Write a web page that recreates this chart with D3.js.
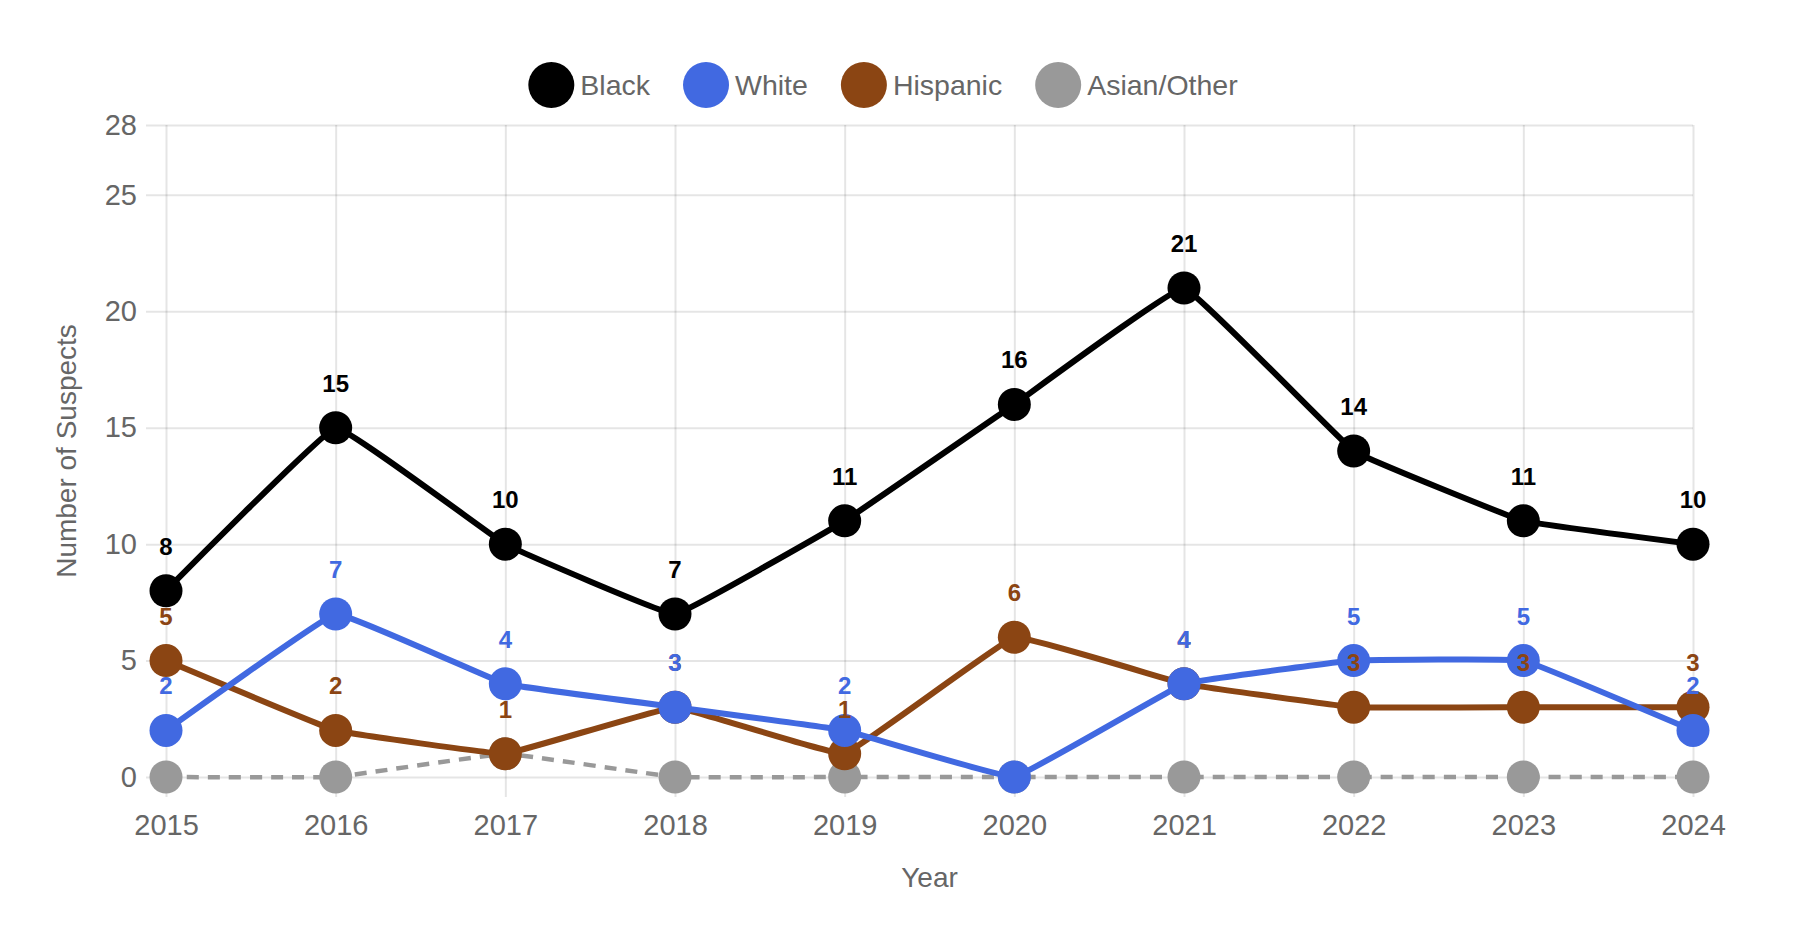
<!DOCTYPE html>
<html>
<head>
<meta charset="utf-8">
<script src="https://cdn.jsdelivr.net/npm/d3@7"></script>
<style>
  html, body { margin: 0; padding: 0; background: #fff; }
  svg { display: block; font-family: "Liberation Sans", Arial, Helvetica, sans-serif; }
</style>
</head>
<body>
<svg id="chart" width="1800" height="936"></svg>
<script>
// ---- Data ----
const years = ["2015","2016","2017","2018","2019","2020","2021","2022","2023","2024"];
const seriesNames = ["Black", "White", "Hispanic", "Asian/Other"];
const blackValues = [8, 15, 10, 7, 11, 16, 21, 14, 11, 10];
const whiteValues = [2, 7, 4, 3, 2, 0, 4, 5, 5, 2];
const hispanicValues = [5, 2, 1, 3, 1, 6, 4, 3, 3, 3];
const asianOtherValues = [0, 0, 1, 0, 0, 0, 0, 0, 0, 0];
const yTickValues = [0, 5, 10, 15, 20, 25, 28];
const yAxisTitle = "Number of Suspects";
const xAxisTitle = "Year";

// ---- Styles ----
const colors = ["#000000", "#4169E1", "#8B4513", "#999999"];
const dashed = [false, false, false, true];
const showLabels = [true, true, true, false];
const valuesList = [blackValues, whiteValues, hispanicValues, asianOtherValues];

const series = seriesNames.map((name, i) => ({
  name, color: colors[i], dashed: dashed[i], labels: showLabels[i],
  values: valuesList[i].map((v, j) => ({ year: years[j], v }))
}));

const svg = d3.select("#chart");
svg.append("rect").attr("width", 1800).attr("height", 936).attr("fill", "#fff");

const plotLeft = 166, plotRight = 1693, plotTop = 125, plotBottom = 777;
const x = d3.scalePoint().domain(years).range([plotLeft, plotRight]);
const y = d3.scaleLinear().domain([0, 28]).range([plotBottom, plotTop]);
const gridColor = "rgba(0,0,0,0.1)";
const textColor = "#666";

// Y axis with gridlines
const yAxisG = svg.append("g")
  .attr("transform", `translate(${plotLeft - 20},0)`)
  .call(d3.axisLeft(y).tickValues(yTickValues).tickSize(-(plotRight - plotLeft + 20)).tickPadding(9).tickFormat(d3.format("d")));
yAxisG.select(".domain").remove();
yAxisG.selectAll(".tick line").attr("stroke", gridColor).attr("stroke-width", 2);
yAxisG.selectAll(".tick text").attr("fill", textColor).attr("font-size", 29);

// X axis with gridlines
const xAxisG = svg.append("g")
  .attr("transform", `translate(0,${plotBottom + 20})`)
  .call(d3.axisBottom(x).tickSize(-(plotBottom + 20 - plotTop)).tickPadding(17));
xAxisG.select(".domain").remove();
xAxisG.selectAll(".tick line").attr("stroke", gridColor).attr("stroke-width", 2);
xAxisG.selectAll(".tick text").attr("fill", textColor).attr("font-size", 29);
yAxisG.attr("font-family", null);
xAxisG.attr("font-family", null);

// Axis titles
svg.append("text")
  .attr("transform", `translate(76,${(plotTop + plotBottom) / 2}) rotate(-90)`)
  .attr("text-anchor", "middle")
  .attr("fill", textColor).attr("font-size", 28)
  .text(yAxisTitle);
svg.append("text")
  .attr("x", (plotLeft + plotRight) / 2).attr("y", 887)
  .attr("text-anchor", "middle")
  .attr("fill", textColor).attr("font-size", 28)
  .text(xAxisTitle);

// Lines and points (first dataset drawn on top)
const line = d3.line()
  .x(d => x(d.year)).y(d => y(d.v))
  .curve(d3.curveCardinal.tension(0.82));

series.slice().reverse().forEach(s => {
  const g = svg.append("g");
  g.append("path")
    .datum(s.values)
    .attr("d", line)
    .attr("fill", "none")
    .attr("stroke", s.color)
    .attr("stroke-width", s.dashed ? 4.5 : 6)
    .attr("stroke-dasharray", s.dashed ? "12 9" : null)
    .attr("stroke-linejoin", "round");
  g.selectAll("circle")
    .data(s.values)
    .join("circle")
    .attr("cx", d => x(d.year)).attr("cy", d => y(d.v))
    .attr("r", 16.5)
    .attr("fill", s.color);
});

// Data labels (drawn after all points; first dataset on top)
series.slice().reverse().forEach(s => {
  if (!s.labels) return;
  svg.append("g").selectAll("text")
    .data(s.values.filter(d => d.v > 0))
    .join("text")
    .attr("x", d => x(d.year)).attr("y", d => y(d.v) - 36)
    .attr("text-anchor", "middle")
    .attr("font-size", 24).attr("font-weight", "bold")
    .attr("fill", s.color)
    .text(d => d.v);
});

// Legend
const legendG = svg.append("g");
const legendR = 23, legendGapText = 6, legendGapItem = 33, legendFont = 28.5;
let cursor = 0;
series.forEach(s => {
  const item = legendG.append("g").attr("transform", `translate(${cursor},0)`);
  item.append("circle").attr("cx", legendR).attr("cy", 0).attr("r", legendR).attr("fill", s.color);
  const t = item.append("text")
    .attr("x", legendR * 2 + legendGapText).attr("y", 0).attr("dy", "0.35em")
    .attr("fill", textColor).attr("font-size", legendFont)
    .text(s.name);
  cursor += legendR * 2 + legendGapText + t.node().getComputedTextLength() + legendGapItem;
});
const legendWidth = cursor - legendGapItem;
legendG.attr("transform", `translate(${883 - legendWidth / 2},85)`);
</script>
</body>
</html>
